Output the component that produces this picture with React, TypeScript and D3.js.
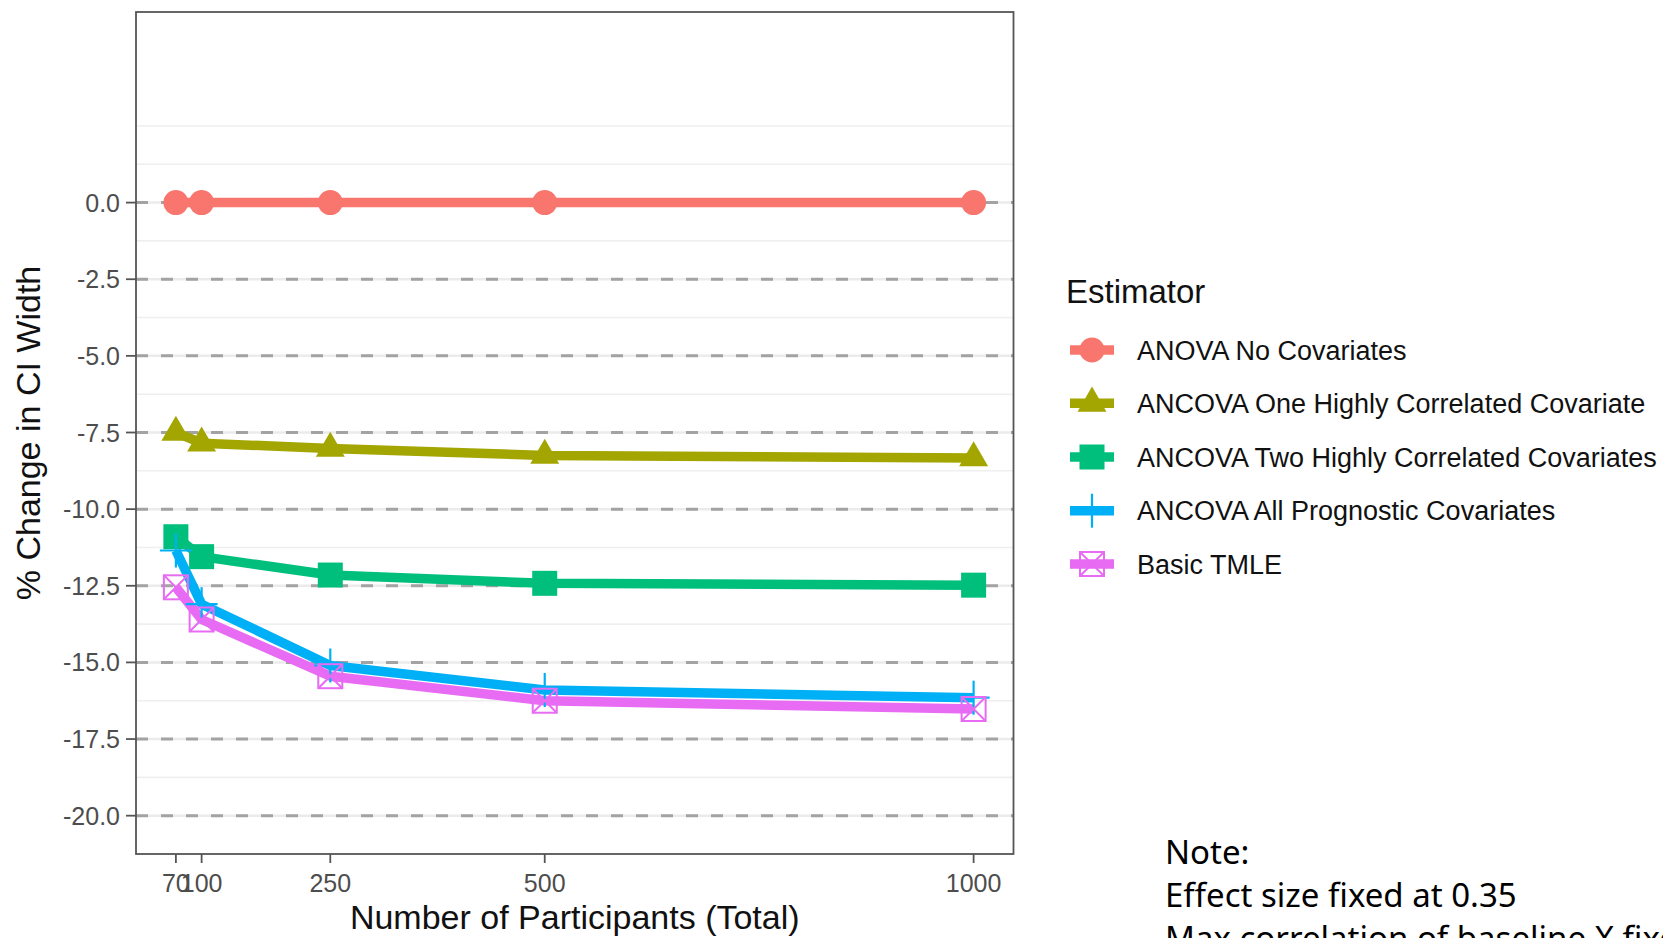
import React from "react";
import * as d3 from "d3";

// ---------- data ----------
const sampleSizes = [70, 100, 250, 500, 1000];
const estimators = [
  "ANOVA No Covariates",
  "ANCOVA One Highly Correlated Covariate",
  "ANCOVA Two Highly Correlated Covariates",
  "ANCOVA All Prognostic Covariates",
  "Basic TMLE",
];
const anovaNoCov = [0, 0, 0, 0, 0];
const ancovaOne = [-7.5, -7.85, -8.02, -8.25, -8.33];
const ancovaTwo = [-10.9, -11.55, -12.15, -12.42, -12.48];
const ancovaAll = [-11.35, -13.1, -15.1, -15.9, -16.15];
const basicTmle = [-12.55, -13.6, -15.45, -16.25, -16.52];
const seriesValues = [anovaNoCov, ancovaOne, ancovaTwo, ancovaAll, basicTmle];
const seriesColors = ["#F8766D", "#A3A500", "#00BF7D", "#00B0F6", "#E76BF3"];
const seriesShapes = ["circle", "triangle", "square", "plus", "squarecross"];
const yTicks = [0, -2.5, -5, -7.5, -10, -12.5, -15, -17.5, -20];
const yMinor = [2.5, 1.25, -1.25, -3.75, -6.25, -8.75, -11.25, -13.75, -16.25, -18.75];
const xTicks = [70, 100, 250, 500, 1000];
const xTitle = "Number of Participants (Total)";
const yTitle = "% Change in CI Width";
const legendTitle = "Estimator";
const noteLines = ["Note:", "Effect size fixed at 0.35", "Max correlation of baseline X fixed"];

// ---------- layout ----------
const W = 1663;
const H = 938;
const panel = { left: 136, right: 1013.5, top: 12, bottom: 854 };
const sansFont = "'Liberation Sans', Arial, Helvetica, sans-serif";

function Shape({ kind, cx, cy, color }: { kind: string; cx: number; cy: number; color: string }) {
  if (kind === "circle") return <circle cx={cx} cy={cy} r={12.5} fill={color} />;
  if (kind === "triangle") {
    const r = 16.7;
    const xc = (r * Math.sqrt(3)) / 2;
    const pts = [
      [cx, cy - r],
      [cx + xc, cy + r / 2],
      [cx - xc, cy + r / 2],
    ];
    return <polygon points={pts.map((p) => p.join(",")).join(" ")} fill={color} />;
  }
  if (kind === "square") return <rect x={cx - 12.5} y={cy - 12.5} width={25} height={25} fill={color} />;
  if (kind === "plus")
    return (
      <g stroke={color} strokeWidth={2.2}>
        <line x1={cx - 16} x2={cx + 16} y1={cy} y2={cy} />
        <line x1={cx} x2={cx} y1={cy - 17} y2={cy + 17} />
      </g>
    );
  // square with cross
  const s = 12;
  return (
    <g stroke={color} strokeWidth={2} fill="none">
      <rect x={cx - s} y={cy - s} width={2 * s} height={2 * s} />
      <line x1={cx - s} y1={cy - s} x2={cx + s} y2={cy + s} />
      <line x1={cx - s} y1={cy + s} x2={cx + s} y2={cy - s} />
    </g>
  );
}

export default function App() {
  const x = d3.scaleLinear().domain([23.5, 1046.5]).range([panel.left, panel.right]);
  const y = d3.scaleLinear().domain([-21.25, 6.25]).range([854, 11]);
  const line = d3
    .line<number>()
    .x((_, i) => x(sampleSizes[i]))
    .y((d) => y(d));
  const fmt = (v: number) => d3.format(".1f")(v).replace("\u2212", "-");

  const legendX = 1092;
  const legendRows = [350, 403.3, 457, 510.7, 564];

  return (
    <svg
      width={W}
      height={H}
      style={{ position: "absolute", left: 0, top: 0, display: "block", background: "#fff" }}
    >
      <rect x={0} y={0} width={W} height={H} fill="#fff" />
      {/* minor grid */}
      {yMinor.map((v) => (
        <line key={"mn" + v} x1={panel.left} x2={panel.right} y1={y(v)} y2={y(v)} stroke="#EFEFEF" strokeWidth={1.6} />
      ))}
      {/* major grid */}
      {yTicks.map((v) => (
        <line key={"mj" + v} x1={panel.left} x2={panel.right} y1={y(v)} y2={y(v)} stroke="#EBEBEB" strokeWidth={2.5} />
      ))}
      {/* dashed reference lines */}
      {yTicks.map((v) => (
        <line
          key={"dh" + v}
          x1={panel.left}
          x2={panel.right}
          y1={y(v)}
          y2={y(v)}
          stroke="#A3A3A3"
          strokeWidth={3}
          strokeDasharray="12 13"
        />
      ))}
      {/* series lines */}
      {seriesValues.map((vals, si) => (
        <path
          key={"ln" + si}
          d={line(vals) || ""}
          fill="none"
          stroke={seriesColors[si]}
          strokeWidth={9.5}
          strokeLinejoin="round"
        />
      ))}
      {/* points */}
      {seriesValues.map((vals, si) => (
        <g key={"pt" + si}>
          {vals.map((v, i) => (
            <Shape key={i} kind={seriesShapes[si]} cx={x(sampleSizes[i])} cy={y(v)} color={seriesColors[si]} />
          ))}
        </g>
      ))}
      {/* panel border */}
      <rect
        x={panel.left}
        y={panel.top}
        width={panel.right - panel.left}
        height={panel.bottom - panel.top}
        fill="none"
        stroke="#555"
        strokeWidth={1.8}
      />
      {/* y axis */}
      {yTicks.map((v) => (
        <g key={"yt" + v}>
          <line x1={panel.left - 10} x2={panel.left} y1={y(v)} y2={y(v)} stroke="#555" strokeWidth={1.8} />
          <text
            x={120}
            y={y(v) + 9}
            textAnchor="end"
            fontFamily={sansFont}
            fontSize={25}
            fill="#4D4D4D"
          >
            {fmt(v)}
          </text>
        </g>
      ))}
      {/* x axis */}
      {xTicks.map((v) => (
        <g key={"xt" + v}>
          <line x1={x(v)} x2={x(v)} y1={panel.bottom} y2={panel.bottom + 9} stroke="#555" strokeWidth={1.8} />
          <text x={x(v)} y={892} textAnchor="middle" fontFamily={sansFont} fontSize={25} fill="#4D4D4D">
            {v}
          </text>
        </g>
      ))}
      <text
        x={(panel.left + panel.right) / 2}
        y={929}
        textAnchor="middle"
        fontFamily={sansFont}
        fontSize={34}
        fill="#111"
      >
        {xTitle}
      </text>
      <text
        transform={`translate(40, ${(panel.top + panel.bottom) / 2}) rotate(-90)`}
        textAnchor="middle"
        fontFamily={sansFont}
        fontSize={34}
        fill="#111"
      >
        {yTitle}
      </text>
      {/* legend */}
      <text x={1066} y={303} fontFamily={sansFont} fontSize={33} fill="#111">
        {legendTitle}
      </text>
      {estimators.map((name, i) => (
        <g key={"lg" + i}>
          <line
            x1={legendX - 22}
            x2={legendX + 22}
            y1={legendRows[i]}
            y2={legendRows[i]}
            stroke={seriesColors[i]}
            strokeWidth={9.5}
          />
          <Shape kind={seriesShapes[i]} cx={legendX} cy={legendRows[i]} color={seriesColors[i]} />
          <text x={1137} y={legendRows[i] + 9.5} fontFamily={sansFont} fontSize={27} fill="#111">
            {name}
          </text>
        </g>
      ))}
      {/* note */}
      {noteLines.map((t, i) => (
        <text key={"nt" + i} x={1165} y={864.3 + i * 43} fontFamily="'Noto Sans', sans-serif" fontSize={33} fill="#000">
          {t}
        </text>
      ))}
    </svg>
  );
}
